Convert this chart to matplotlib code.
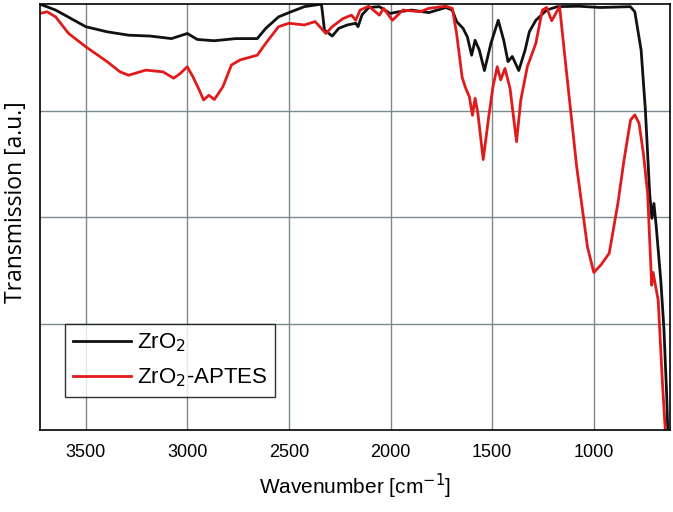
import matplotlib
matplotlib.use('Agg')
import matplotlib.pyplot as plt
import numpy as np

# FTIR spectra (wavenumber in cm-1, transmission in arbitrary units 0-100)
wn_zro2 = [3726, 3648, 3500, 3395, 3289, 3183, 3078, 3000, 2951, 2867, 2762, 2656, 2614, 2551,
           2500, 2424, 2340, 2325, 2287, 2255, 2213, 2171, 2160, 2140, 2107, 2055, 2002, 1960,
           1896, 1812, 1728, 1696, 1675, 1643, 1622, 1601, 1584, 1563, 1538, 1506, 1470, 1443,
           1422, 1401, 1369, 1338, 1317, 1285, 1232, 1179, 1074, 968, 820, 798, 767, 746, 725,
           714, 704, 693, 670, 655, 641, 636]
tr_zro2 = [100, 98.6, 94.7, 93.5, 92.7, 92.5, 91.9, 93.1, 91.7, 91.4, 91.9, 91.9, 94.3, 97.0,
           98.0, 99.4, 100, 93.9, 92.5, 94.3, 95.1, 95.5, 94.7, 97.5, 99.2, 99.4, 97.8, 98.2,
           98.6, 98.0, 99.2, 98.6, 95.9, 94.3, 92.3, 88.0, 91.5, 89.2, 84.4, 90.8, 96.2, 91.5,
           86.5, 87.7, 84.4, 89.2, 93.5, 96.2, 98.6, 99.4, 99.5, 99.2, 99.4, 98.2, 89.2, 75.1,
           55.6, 49.7, 53.2, 48.0, 35.0, 24.0, 8.0, 0]

wn_aptes = [3726, 3690, 3648, 3584, 3500, 3395, 3331, 3289, 3204, 3120, 3067, 3035, 3000, 2972,
            2941, 2920, 2894, 2867, 2825, 2783, 2740, 2656, 2614, 2551, 2500, 2424, 2371, 2318,
            2287, 2234, 2192, 2171, 2150, 2107, 2055, 2034, 1991, 1939, 1854, 1812, 1728, 1696,
            1675, 1648, 1633, 1612, 1597, 1584, 1570, 1544, 1517, 1496, 1475, 1458, 1437, 1412,
            1380, 1359, 1327, 1285, 1253, 1232, 1207, 1168, 1137, 1084, 1031, 1000, 966, 924,
            882, 851, 819, 798, 777, 756, 735, 715, 708, 683, 662, 648]
tr_aptes = [97.8, 98.2, 97.0, 93.1, 90.0, 86.5, 84.1, 83.3, 84.5, 84.1, 82.6, 83.7, 85.3, 82.9,
            79.8, 77.5, 78.6, 77.6, 80.6, 85.7, 86.9, 88.0, 90.8, 94.7, 95.5, 95.1, 95.9, 93.1,
            94.7, 96.6, 97.4, 96.2, 98.6, 99.5, 97.4, 99.0, 96.2, 98.6, 98.2, 99.0, 99.5, 99.0,
            93.1, 82.9, 80.6, 78.2, 73.9, 77.9, 74.3, 63.5, 73.5, 80.6, 85.3, 82.2, 84.9, 80.2,
            67.7, 77.5, 85.3, 90.8, 98.6, 99.2, 96.1, 99.4, 85.3, 61.8, 43.0, 37.0, 38.7, 41.5,
            53.0, 63.4, 72.8, 74.0, 72.0, 65.0, 55.6, 34.0, 37.0, 30.5, 11.0, 0]

labels = ['ZrO$_2$', 'ZrO$_2$-APTES']
x_ticks = [3500, 3000, 2500, 2000, 1500, 1000]

plt.rcParams['font.family'] = ['Liberation Sans', 'DejaVu Sans']

fig = plt.figure(figsize=(6.73, 5.12), dpi=100)
ax = fig.add_axes([0.0594, 0.160, 0.9361, 0.832])

ax.plot(wn_zro2, tr_zro2, color='#111111', lw=2.0, label=labels[0])
ax.plot(wn_aptes, tr_aptes, color='#e01b1b', lw=2.0, label=labels[1])

ax.set_xlim(3725, 625)
ax.set_ylim(0, 100)
ax.set_xticks(x_ticks)
ax.set_yticks([25, 50, 75])
ax.set_yticklabels([])
ax.tick_params(axis='both', length=0, labelsize=13, pad=10)
ax.grid(True, color='#7a8a90', lw=1.0)
ax.set_axisbelow(True)
for s in ax.spines.values():
    s.set_linewidth(1.2)

ax.set_xlabel('Wavenumber [cm$^{-1}$]', fontsize=15, labelpad=8)
ax.set_ylabel('Transmission [a.u.]', fontsize=16.5, family='Open Sans')
ax.yaxis.set_label_coords(-0.019, 0.535)

leg = ax.legend(loc='lower left', bbox_to_anchor=(0.022, 0.052), fontsize=16, frameon=True,
                fancybox=False, edgecolor='black', handlelength=2.6, borderpad=0.35,
                labelspacing=0.55, handletextpad=0.3)
leg.get_frame().set_linewidth(1.0)

fig.savefig('out.png', dpi=100)
